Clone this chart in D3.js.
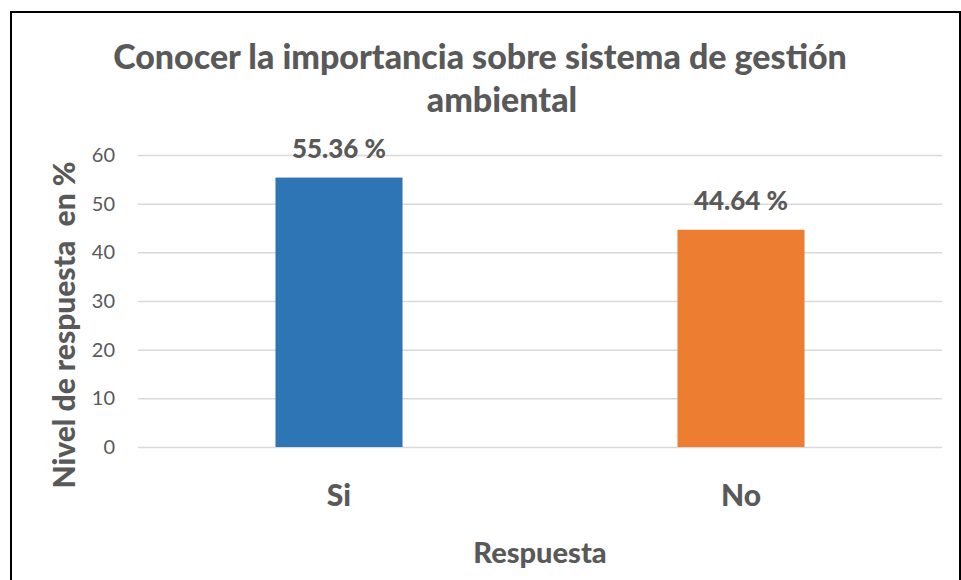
<!DOCTYPE html>
<html>
<head>
<meta charset="utf-8">
<script src="https://cdn.jsdelivr.net/npm/d3@7"></script>
<style>
  body { margin: 0; background: #fff; }
  svg text { font-family: Lato, "Open Sans", sans-serif; fill: #595959; }
  .heavy { font-weight: 900; }
</style>
</head>
<body>
<div id="chart"></div>
<script>
var categories = ["Si", "No"];
var values = [55.36, 44.64];
var colors = ["#2E75B6", "#ED7D31"];
var yTicks = [0, 10, 20, 30, 40, 50, 60];
var titleLines = ["Conocer la importancia sobre sistema de gestión", "ambiental"];

const width = 961, height = 580;
const plot = { left: 138, right: 942, top: 155, bottom: 447 };

var svg = d3.select("#chart").append("svg")
    .attr("width", width)
    .attr("height", height);

// frame
svg.append("rect")
    .attr("x", 11).attr("y", 12)
    .attr("width", 949).attr("height", 600)
    .attr("fill", "none")
    .attr("stroke", "#000")
    .attr("stroke-width", 2);

var x = d3.scaleBand()
    .domain(categories)
    .range([plot.left, plot.right])
    .paddingInner(0.684)
    .paddingOuter(0.342);

var y = d3.scaleLinear()
    .domain([0, 60])
    .range([plot.bottom, plot.top]);

// gridlines + tick labels
var yAxis = d3.axisLeft(y)
    .tickValues(yTicks)
    .tickSize(-(plot.right - plot.left))
    .tickPadding(23);

var gy = svg.append("g")
    .attr("transform", "translate(" + plot.left + ",0)")
    .call(yAxis);
gy.select(".domain").remove();
gy.selectAll(".tick line")
    .attr("stroke", "#d9d9d9")
    .attr("stroke-width", 1.5);
gy.selectAll(".tick text")
    .style("font-size", "20px")
    .attr("fill", "#595959");

// bars
svg.selectAll(".bar")
    .data(values)
    .enter().append("rect")
    .attr("class", "bar")
    .attr("x", function (d, i) { return x(categories[i]); })
    .attr("y", function (d) { return y(d); })
    .attr("width", x.bandwidth())
    .attr("height", function (d) { return y(0) - y(d); })
    .attr("fill", function (d, i) { return colors[i]; });

// value labels
svg.selectAll(".val")
    .data(values)
    .enter().append("text")
    .attr("class", "val heavy")
    .attr("x", function (d, i) { return x(categories[i]) + x.bandwidth() / 2; })
    .attr("y", function (d) { return y(d) - 20; })
    .attr("text-anchor", "middle")
    .style("font-size", "26px")
    .text(function (d) { return d.toFixed(2) + " %"; });

// category labels
var xAxis = d3.axisBottom(x).tickSize(0).tickPadding(0);
var gx = svg.append("g")
    .attr("transform", "translate(0," + plot.bottom + ")")
    .call(xAxis);
gx.select(".domain").remove();
gx.selectAll(".tick text")
    .attr("class", "heavy")
    .attr("dy", 0)
    .attr("y", 59)
    .attr("fill", "#595959")
    .style("font-size", "30px");

// title
svg.selectAll(".title")
    .data(titleLines)
    .enter().append("text")
    .attr("class", "title heavy")
    .attr("x", function (d, i) { return i === 0 ? 480 : 502; })
    .attr("y", function (d, i) { return 69 + i * 43; })
    .attr("text-anchor", "middle")
    .style("font-size", "34px")
    .text(function (d) { return d; });

// axis titles
svg.append("text")
    .attr("class", "heavy")
    .attr("x", (plot.left + plot.right) / 2)
    .attr("y", 563)
    .attr("text-anchor", "middle")
    .style("font-size", "29px")
    .text("Respuesta");

svg.append("text")
    .attr("class", "heavy")
    .attr("transform", "translate(75,325) rotate(-90)")
    .attr("text-anchor", "middle")
    .style("font-size", "30px")
    .style("white-space", "pre")
    .text("Nivel de respuesta  en %");
</script>
</body>
</html>
